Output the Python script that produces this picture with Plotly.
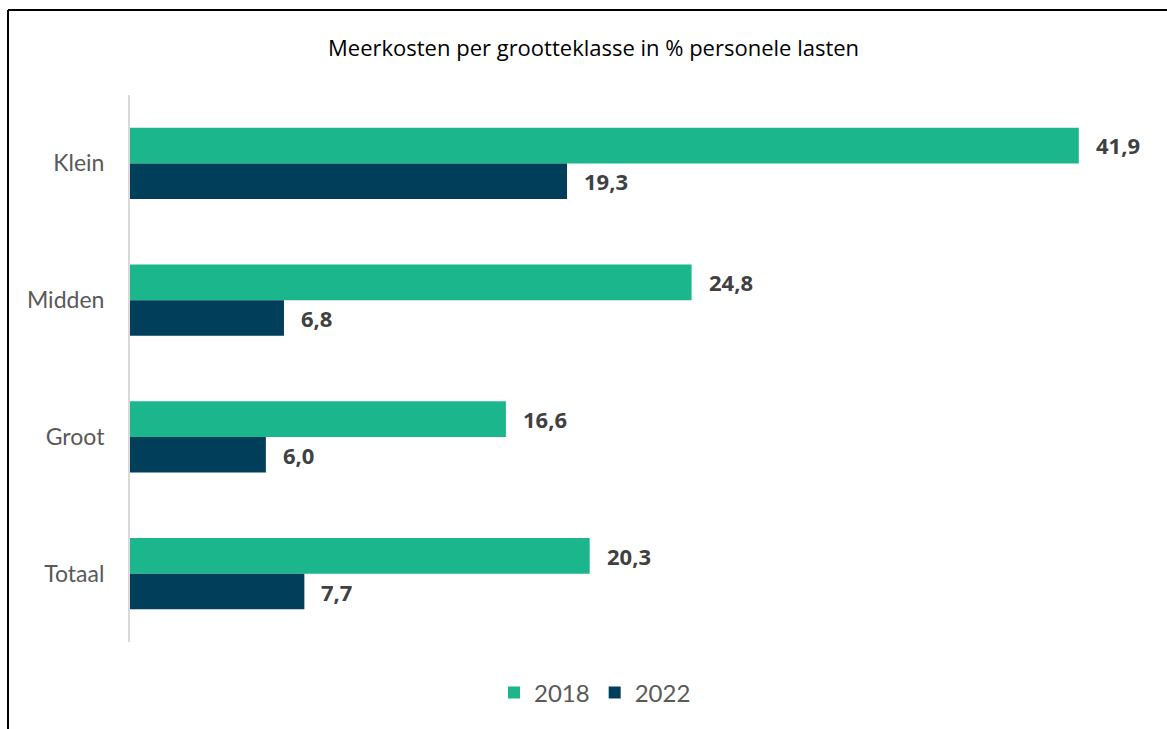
import plotly.graph_objects as go

categories = ["Klein", "Midden", "Groot", "Totaal"]
values_2018 = [41.9, 24.8, 16.6, 20.3]
values_2022 = [19.3, 6.8, 6.0, 7.7]
series_names = ["2018", "2022"]
title_text = "Meerkosten per grootteklasse in % personele lasten"

GREEN = "#1bb68b"
NAVY = "#013e5a"

def fmt(v):
    return f"{v:.1f}".replace(".", ",")

fig = go.Figure()
fig.add_trace(go.Bar(y=categories, x=values_2018, name=series_names[0], orientation="h",
                     marker=dict(color=GREEN, line=dict(width=0)), hoverinfo="skip"))
fig.add_trace(go.Bar(y=categories, x=values_2022, name=series_names[1], orientation="h",
                     marker=dict(color=NAVY, line=dict(width=0)), hoverinfo="skip"))

annotations = []
for vals, ys in ((values_2018, -18), (values_2022, 18)):
    for c, v in zip(categories, vals):
        annotations.append(dict(x=v, y=c, xref="x", yref="y", text=f"<b>{fmt(v)}</b>",
                                showarrow=False, xanchor="left", yanchor="middle",
                                xshift=15, yshift=-ys,
                                font=dict(family="Open Sans", size=22, color="#404040")))
annotations.append(dict(text=title_text, xref="paper", yref="paper",
                        x=(593 - 130) / 1019, y=1 + (95 - 47) / 547,
                        showarrow=False, xanchor="center", yanchor="middle",
                        font=dict(family="Open Sans", size=22, color="#000000")))

shapes = [
    dict(type="line", xref="paper", yref="paper", x0=(8 - 130) / 1019, x1=(1167 - 130) / 1019,
         y0=1 + (95 - 10) / 547, y1=1 + (95 - 10) / 547, line=dict(color="black", width=2)),
    dict(type="line", xref="paper", yref="paper", x0=(8 - 130) / 1019, x1=(8 - 130) / 1019,
         y0=1 + (95 - 10) / 547, y1=(642 - 740) / 547, line=dict(color="black", width=2)),
]

fig.update_layout(
    width=1167, height=729,
    margin=dict(l=130, r=18, t=95, b=87),
    paper_bgcolor="white", plot_bgcolor="white",
    barmode="group", bargap=0.48, bargroupgap=0,
    font=dict(family="Lato", color="#595959"),
    showlegend=True,
    legend=dict(orientation="h", x=(595 - 130) / 1019, xanchor="center",
                y=(642 - 693) / 547, yanchor="middle",
                font=dict(family="Lato", size=24, color="#595959"), traceorder="normal"),
    annotations=annotations,
    shapes=shapes,
)
fig.update_xaxes(range=[0, 45], showgrid=False, zeroline=False, showticklabels=False,
                 showline=False, ticks="")
fig.update_yaxes(autorange="reversed", showgrid=False, zeroline=False, showline=True,
                 linecolor="#d9d9d9", linewidth=2, ticks="", ticklabelstandoff=19,
                 tickfont=dict(family="Lato", size=23, color="#595959"))

fig.write_html("out.html")
